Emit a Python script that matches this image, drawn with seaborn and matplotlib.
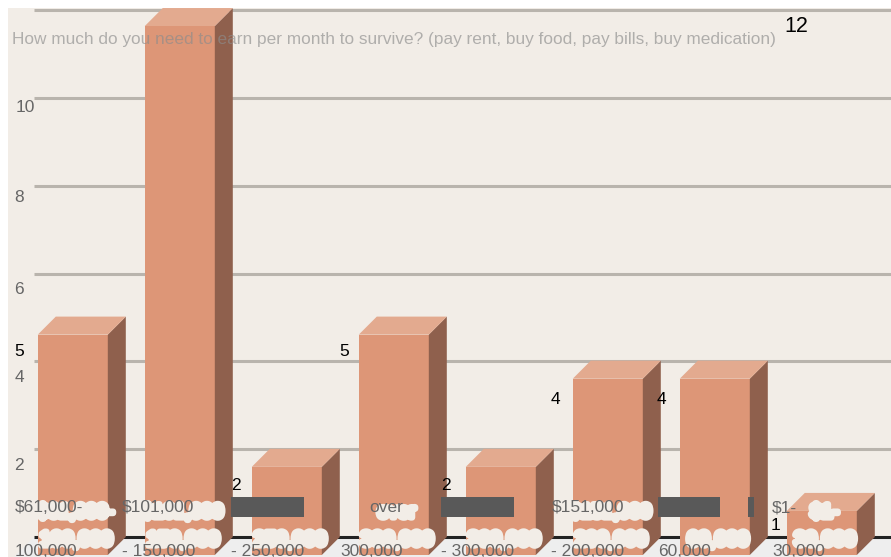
import matplotlib
matplotlib.use("Agg")
import matplotlib.pyplot as plt
import matplotlib.patheffects as pe
from matplotlib.patches import Polygon, Rectangle
import pandas as pd
import seaborn as sns

W, H = 891, 557

title = "How much do you need to earn per month to survive? (pay rent, buy food, pay bills, buy medication)"
categories = ["$61,000-100,000", "$101,000 - 150,000", "$201,000 - 250,000", "over 300,000",
              "$251,000 - 300,000", "$151,000 - 200,000", "$31,000-60,000", "$1-30,000"]
counts = [5, 12, 2, 5, 2, 4, 4, 1]
y_ticks = [2, 4, 6, 8, 10, 12]

label_top = ["$61,000-", "$101,000", "", "over", "", "$151,000", "", "$1-"]
label_bottom = ["100,000", "- 150,000", "- 250,000", "300,000", "- 300,000", "- 200,000", "60,000", "30,000"]

# where the text ended up in the reference, in pixels
top_x = [15, 122, 0, 369, 0, 552, 0, 772]
bottom_x = [15, 122, 231, 340, 441, 551, 658, 772]
count_pos = [(19, 352), (236, 486), (344, 352), (446, 486), (555, 400), (661, 400), (776, 526)]
count_text = ["5", "2", "5", "2", "4", "4", "1"]
tick_pos = [(19, 466), (19, 377), (19, 290), (19, 197), (25, 108)]
tick_text = ["2", "4", "6", "8", "10"]
covers = [(231, 304), (441, 514), (658, 720), (748, 754)]

FRONT = "#dd9677"
SIDE = "#8f604d"
TOP = "#e3aa8f"
BG = "#f2ede7"
GRID = "#b9b4ad"
GREY_TEXT = "#666666"
DEPTH = 18
UNIT_X = 107.0
UNIT_Y = 44.08
GRID_UNIT_Y = 43.9  # back wall scale is a touch tighter than the bars
FIRST_X = 72.8

sns.set_theme(style="white")
plt.rcParams["font.family"] = ["Liberation Sans", "DejaVu Sans"]

fig = plt.figure(figsize=(W / 100, H / 100), dpi=100, facecolor="white")
ax = fig.add_axes([8 / W, 0, (W - 8) / W, (H - 8) / H], facecolor=BG)

df = pd.DataFrame({"category": categories, "count": counts})
sns.barplot(data=df, x="category", y="count", color=FRONT, saturation=1, width=70 / UNIT_X,
            ax=ax, zorder=5, linewidth=0)
bars = list(ax.patches)

# front plane sits at y=555px, bars are 70px wide around these centres
ax.set_xlim((8 - FIRST_X) / UNIT_X, (W - FIRST_X) / UNIT_X)
ax.set_ylim(-(H - 555) / UNIT_Y, (555 - 8) / UNIT_Y)
ax.set_xlabel("")
ax.set_ylabel("")
ax.set_xticks([])
ax.set_yticks([])
for s in ax.spines.values():
    s.set_visible(False)

dx = DEPTH / UNIT_X
dy = DEPTH / UNIT_Y
y_low = ax.get_ylim()[0]
x_left = ax.get_xlim()[0] + 26 / UNIT_X
x_right = ax.get_xlim()[1]

# floor and back wall lines
ax.add_patch(Polygon([(x_left, dy), (x_right, dy), (x_right, y_low),
                      (x_left - (dy - y_low) * UNIT_Y / UNIT_X, y_low)],
                     facecolor="#eeeeee", edgecolor="none", zorder=1))
ax.hlines([t * GRID_UNIT_Y / UNIT_Y + dy for t in y_ticks], x_left, x_right, color=GRID,
          linewidth=2.2, zorder=2, clip_on=False)
ax.hlines([dy], x_left, x_right, color="#222222", linewidth=2.2, zorder=2)

# side and top of every box come from the seaborn bars
for bar in bars:
    x0, w, h = bar.get_x(), bar.get_width(), bar.get_height()
    ax.add_patch(Polygon([(x0 + w, 0), (x0 + w + dx, dy), (x0 + w + dx, h + dy), (x0 + w, h)],
                         facecolor=SIDE, edgecolor="none", zorder=5))
    ax.add_patch(Polygon([(x0, h), (x0 + dx, h + dy), (x0 + w + dx, h + dy), (x0 + w, h)],
                         facecolor=TOP, edgecolor="none", zorder=5))


def put(x, y, s, **kw):
    kw.setdefault("fontsize", 12.5)
    kw.setdefault("color", GREY_TEXT)
    kw.setdefault("va", "center")
    kw.setdefault("zorder", 8)
    return ax.annotate(s, xy=(x / W, 1 - y / H), xycoords="figure fraction", annotation_clip=False, **kw)


# the blurred pale copies of the labels on top of the bars
halo = [pe.withStroke(linewidth=4.5, foreground=BG)]
for i in range(len(categories)):
    cx = FIRST_X + i * UNIT_X + 3
    if label_top[i]:
        put(cx, 513, label_top[i], color=BG, ha="center", fontsize=14, path_effects=halo, zorder=6)
    put(cx, 540, label_bottom[i].replace("- ", ""), color=BG, ha="center", fontsize=14.5,
        path_effects=halo, zorder=6)

for a, b in covers:
    fig.add_artist(Rectangle((a / W, 1 - 517 / H), (b - a) / W, 20 / H, transform=fig.transFigure,
                             facecolor="#595959", edgecolor="none", zorder=7))

for i in range(len(categories)):
    if label_top[i]:
        put(top_x[i], 508, label_top[i])
    put(bottom_x[i], 552, label_bottom[i])

for (x, y), s in zip(tick_pos, tick_text):
    put(x, y, s, ha="center")
for (x, y), s in zip(count_pos, count_text):
    put(x, y, s, ha="center", color="black")
put(796, 26, "12", ha="center", color="black", fontsize=15.5)

put(12, 39.5, title, color="#8c8c8c", alpha=0.65, fontsize=12.42)

fig.savefig("out.png", dpi=100)
